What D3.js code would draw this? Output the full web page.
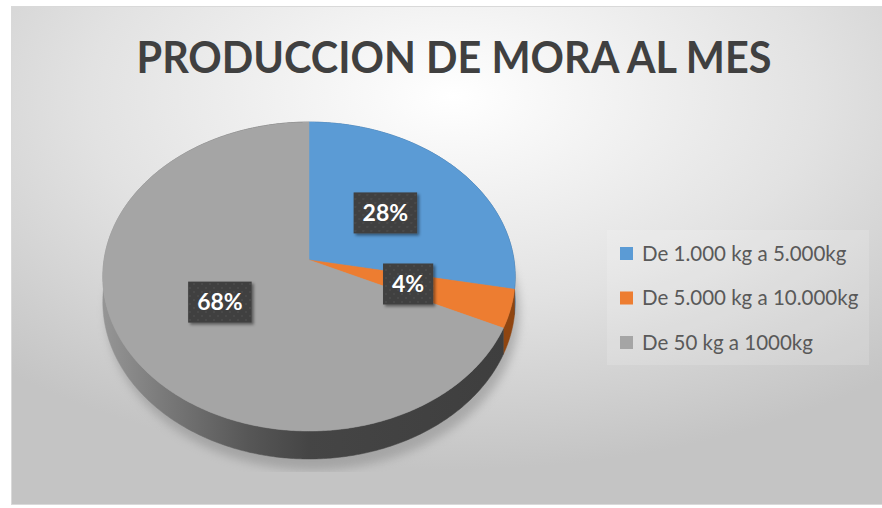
<!DOCTYPE html>
<html>
<head>
<meta charset="utf-8">
<script src="https://cdn.jsdelivr.net/npm/d3@7.9.0/dist/d3.min.js"></script>
<style>
  html, body { margin: 0; padding: 0; background: #fff; }
  svg { display: block; }
</style>
</head>
<body>
<script>
// ─── DATA ────────────────────────────────────────────────────────────────────
const title      = 'PRODUCCION DE MORA AL MES';
const categories = ['De 1.000 kg a 5.000kg', 'De 5.000 kg a 10.000kg', 'De 50 kg a 1000kg'];
const values     = [28, 4, 68];
const pctLabels  = ['28%', '4%', '68%'];

// ─── SETUP ───────────────────────────────────────────────────────────────────
const W = 882, H = 508;
const svg = d3.select('body').append('svg')
  .attr('width', W).attr('height', H);

const defs = svg.append('defs');

// background radial gradient
const bg = defs.append('radialGradient').attr('id', 'bg')
  .attr('cx', '50%').attr('cy', '18%').attr('r', '75%');
bg.append('stop').attr('offset', '0%').attr('stop-color', '#ffffff');
bg.append('stop').attr('offset', '55%').attr('stop-color', '#e2e2e2');
bg.append('stop').attr('offset', '100%').attr('stop-color', '#c4c4c4');

// side wall gradients
const wallGray = defs.append('linearGradient').attr('id', 'wallGray')
  .attr('gradientUnits', 'userSpaceOnUse')
  .attr('x1', 104).attr('x2', 514).attr('y1', 0).attr('y2', 0);
[[0, '#959595'], [0.15, '#797979'], [0.35, '#575757'], [0.5, '#454545'], [1, '#3e3e3e']]
  .forEach(([o, c]) => wallGray.append('stop').attr('offset', o).attr('stop-color', c));

const wallColor = d3.scaleOrdinal()
  .domain(categories)
  .range(['#2f5f8c', '#8f4510', 'url(#wallGray)']);

const color = d3.scaleOrdinal()
  .domain(categories)
  .range(['#5B9BD5', '#ED7D31', '#A5A5A5']);

// blur for pie shadow
defs.append('filter').attr('id', 'blur')
  .attr('x', '-20%').attr('y', '-20%').attr('width', '140%').attr('height', '140%')
  .append('feGaussianBlur').attr('stdDeviation', 5);

// label box shadow
const ds = defs.append('filter').attr('id', 'boxShadow')
  .attr('x', '-30%').attr('y', '-30%').attr('width', '160%').attr('height', '160%');
ds.append('feDropShadow').attr('dx', 2).attr('dy', 2).attr('stdDeviation', 1.5)
  .attr('flood-color', '#000').attr('flood-opacity', 0.45);

// dotted texture for label boxes
const pat = defs.append('pattern').attr('id', 'dots')
  .attr('patternUnits', 'userSpaceOnUse').attr('width', 8).attr('height', 8);
pat.append('rect').attr('width', 8).attr('height', 8).attr('fill', '#404040');
pat.append('circle').attr('cx', 2).attr('cy', 2).attr('r', 0.9).attr('fill', '#4e4e4e');
pat.append('circle').attr('cx', 6).attr('cy', 6).attr('r', 0.9).attr('fill', '#4e4e4e');

defs.append('clipPath').attr('id', 'shadowClip')
  .append('rect').attr('x', 0).attr('y', 0).attr('width', W).attr('height', 472);

// ─── CHART AREA ──────────────────────────────────────────────────────────────
svg.append('rect')
  .attr('x', 11.5).attr('y', 6.5)
  .attr('width', W).attr('height', 498)
  .attr('fill', 'url(#bg)')
  .attr('stroke', '#d9d9d9');

svg.append('text')
  .attr('x', 454).attr('y', 73)
  .attr('text-anchor', 'middle')
  .attr('font-family', 'Lato, "Open Sans", sans-serif')
  .attr('font-weight', 'bold')
  .attr('font-size', 43)
  .attr('fill', '#404040')
  .attr('textLength', 635)
  .attr('lengthAdjust', 'spacingAndGlyphs')
  .text(title);

// ─── 3D PIE ──────────────────────────────────────────────────────────────────
const CX = 309, CY = 260, RX = 205, RY = 152.7, K = 0.107, DEPTH = 25;

// perspective projection of a point on the tilted disc
function proj(theta, f = 1, drop = 0) {
  const u = Math.sin(theta) * f, v = Math.cos(theta) * f;
  const s = 1 / (1 + K * v);
  return [CX + RX * u * s, CY - RY * v * s + drop * s];
}

function arcPts(a0, a1, drop = 0) {
  const n = Math.max(2, Math.ceil((a1 - a0) / 0.01));
  return d3.range(n + 1).map(i => proj(a0 + (a1 - a0) * i / n, 1, drop));
}

const pie = d3.pie().sort(null).value(d => d.value);
const slices = pie(categories.map((c, i) => ({ cat: c, value: values[i], label: pctLabels[i] })));

const line = d3.line();
const pieG = svg.append('g');

// shadow under the pie
pieG.append('g').attr('clip-path', 'url(#shadowClip)')
  .append('path')
    .attr('d', line(arcPts(0, 2 * Math.PI, DEPTH + 8)) + 'Z')
    .attr('transform', 'translate(4,2)')
    .attr('fill', '#8a8a8a')
    .attr('opacity', 0.55)
    .attr('filter', 'url(#blur)');

// side walls
pieG.selectAll('path.wall')
  .data(slices)
  .join('path')
    .attr('class', 'wall')
    .attr('d', d => {
      const top = arcPts(d.startAngle, d.endAngle, 0);
      const bot = arcPts(d.startAngle, d.endAngle, DEPTH).reverse();
      return line(top.concat(bot)) + 'Z';
    })
    .attr('fill', d => wallColor(d.data.cat))
    .attr('stroke', d => wallColor(d.data.cat))
    .attr('stroke-width', 0.5);

// top faces
pieG.selectAll('path.top')
  .data(slices)
  .join('path')
    .attr('class', 'top')
    .attr('d', d => line([[CX, CY]].concat(arcPts(d.startAngle, d.endAngle))) + 'Z')
    .attr('fill', d => color(d.data.cat))
    .attr('stroke', d => color(d.data.cat))
    .attr('stroke-width', 0.5);

// data labels
const lab = pieG.selectAll('g.lab')
  .data(slices)
  .join('g')
    .attr('class', 'lab')
    .attr('transform', d => {
      const mid = (d.startAngle + d.endAngle) / 2;
      const [x, y] = proj(mid, 0.5);
      return `translate(${x},${y})`;
    });

lab.append('text')
  .attr('text-anchor', 'middle')
  .attr('dy', '0.36em')
  .attr('font-family', 'Lato, "Open Sans", sans-serif')
  .attr('font-weight', 'bold')
  .attr('font-size', 23)
  .attr('fill', '#ffffff')
  .text(d => d.data.label);

lab.each(function () {
  const g = d3.select(this);
  const bb = g.select('text').node().getBBox();
  g.insert('rect', 'text')
    .attr('x', bb.x - 9).attr('y', -20.5)
    .attr('width', bb.width + 18).attr('height', 41)
    .attr('fill', 'url(#dots)')
    .attr('filter', 'url(#boxShadow)');
});

// ─── LEGEND ──────────────────────────────────────────────────────────────────
const legend = svg.append('g').attr('transform', 'translate(607,230)');
legend.append('rect')
  .attr('width', 262).attr('height', 135)
  .attr('fill', '#ffffff').attr('opacity', 0.15);

const item = legend.selectAll('g.item')
  .data(categories)
  .join('g')
    .attr('class', 'item')
    .attr('transform', (d, i) => `translate(13,${23.5 + i * 44.5})`);

item.append('rect')
  .attr('x', 0).attr('y', -6.5)
  .attr('width', 13).attr('height', 13)
  .attr('fill', d => color(d));

item.append('text')
  .attr('x', 22).attr('dy', '0.35em')
  .attr('font-family', 'Lato, "Open Sans", sans-serif')
  .attr('font-size', 20.5)
  .attr('fill', '#595959')
  .text(d => d);
</script>
</body>
</html>
